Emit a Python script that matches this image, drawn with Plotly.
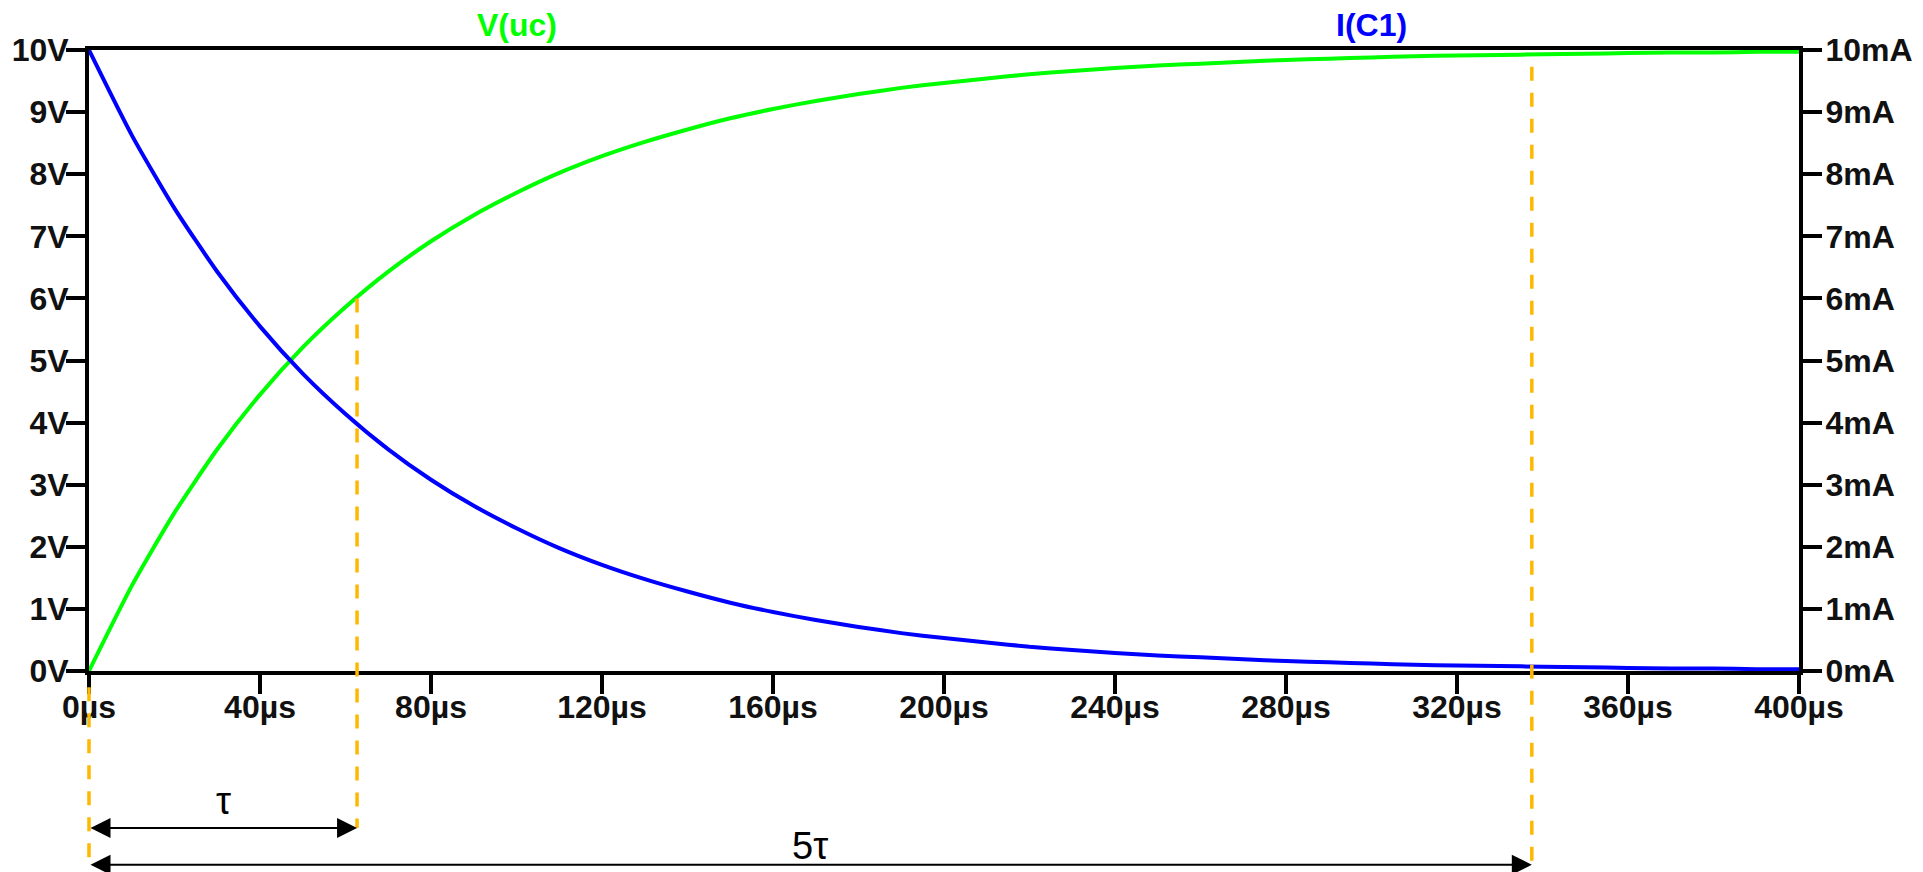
import plotly.graph_objects as go

# ---- data ----
t_us = [0, 10, 20, 30, 40, 50, 60, 70, 80, 90, 100, 110, 120, 130, 140, 150, 160, 170, 180, 190,
        200, 210, 220, 230, 240, 250, 260, 270, 280, 290, 300, 310, 320, 330, 340, 350, 360, 370,
        380, 390, 400]
v_uc = [0, 1.37, 2.55, 3.57, 4.45, 5.21, 5.86, 6.43, 6.92, 7.34, 7.70, 8.02, 8.29, 8.52, 8.72,
        8.90, 9.05, 9.18, 9.29, 9.39, 9.47, 9.54, 9.61, 9.66, 9.71, 9.75, 9.78, 9.81, 9.84, 9.86,
        9.88, 9.90, 9.91, 9.92, 9.93, 9.94, 9.95, 9.96, 9.96, 9.97, 9.97]
i_c1 = [10, 8.63, 7.45, 6.43, 5.55, 4.79, 4.14, 3.57, 3.08, 2.66, 2.30, 1.98, 1.71, 1.48, 1.28,
        1.10, 0.95, 0.82, 0.71, 0.61, 0.53, 0.46, 0.39, 0.34, 0.29, 0.25, 0.22, 0.19, 0.16, 0.14,
        0.12, 0.10, 0.09, 0.08, 0.07, 0.06, 0.05, 0.04, 0.04, 0.03, 0.03]

x_ticks = [0, 40, 80, 120, 160, 200, 240, 280, 320, 360, 400]
x_ticktext = [f"{v}µs" for v in x_ticks]
y_ticks = list(range(0, 11))
y_ticktext_v = [f"{v}V" for v in y_ticks]
y_ticktext_ma = [f"{v}mA" for v in y_ticks]

tau_mark_us = 62.7          # first dashed marker (tau)
five_tau_mark_us = 337.5    # second dashed marker (5 tau)
v_at_tau = 6.0              # where the tau marker meets V(uc)
v_top_five_tau = 9.73       # top of the 5 tau marker

X_RANGE = [0, 400]
Y_RANGE = [0, 10]

GREEN = "#00FF00"
BLUE = "#0000FF"
ORANGE = "#FFB800"
FAMILY = "Liberation Sans, Arial, sans-serif"
TICKFONT = dict(family=FAMILY, size=32, color="#111111", weight="bold")

fig = go.Figure()
fig.add_trace(go.Scatter(x=t_us, y=v_uc, mode="lines", name="V(uc)",
                         line=dict(color=GREEN, width=4, shape="spline", smoothing=0.6),
                         yaxis="y"))
fig.add_trace(go.Scatter(x=t_us, y=i_c1, mode="lines", name="I(C1)",
                         line=dict(color=BLUE, width=4, shape="spline", smoothing=0.6),
                         yaxis="y2"))

axis_common = dict(showgrid=False, zeroline=False, showline=True, linecolor="black", linewidth=4,
                   ticks="outside", ticklen=19, tickwidth=4, tickcolor="black",
                   tickfont=TICKFONT, layer="below traces", automargin=False)

# page body has an 8px default margin, so the figure is sized to fit the window
fig.update_layout(
    width=1915, height=864,
    margin=dict(l=81, r=124, t=42, b=201, autoexpand=False),
    paper_bgcolor="white", plot_bgcolor="white",
    showlegend=False,
    xaxis=dict(range=X_RANGE, tickvals=x_ticks, ticktext=x_ticktext, mirror=True,
               ticklabelstandoff=-14, **axis_common),
    yaxis=dict(range=Y_RANGE, tickvals=y_ticks, ticktext=y_ticktext_v,
               ticklabelstandoff=-9, **axis_common),
    yaxis2=dict(range=Y_RANGE, tickvals=y_ticks, ticktext=y_ticktext_ma, overlaying="y",
                side="right", ticklabelstandoff=-3, **axis_common),
)

# trace labels above the plot
for txt, xpos, col in [("V(uc)", 100, GREEN), ("I(C1)", 300, BLUE)]:
    fig.add_annotation(x=xpos, xref="x", y=1, yref="paper", yanchor="bottom", yshift=5,
                       text=txt, showarrow=False,
                       font=dict(family=FAMILY, size=32, color=col, weight="bold"))

span = Y_RANGE[1] - Y_RANGE[0]
dash_line = dict(color=ORANGE, width=3.5, dash="14px,12px")
# dashed marker lines
fig.add_shape(type="line", xref="x domain", yref="paper", x0=0, x1=0, y0=-0.026, y1=-0.312,
              line=dash_line, layer="above")
fig.add_shape(type="line", xref="x", yref="paper", x0=tau_mark_us, x1=tau_mark_us,
              y0=(v_at_tau - Y_RANGE[0]) / span, y1=-0.253, line=dash_line, layer="above")
fig.add_shape(type="line", xref="x", yref="paper", x0=five_tau_mark_us, x1=five_tau_mark_us,
              y0=(v_top_five_tau - Y_RANGE[0]) / span, y1=-0.312, line=dash_line, layer="above")

# double-headed arrows
for xe, ypos in [(tau_mark_us, -0.253), (five_tau_mark_us, -0.312)]:
    fig.add_annotation(x=xe, xref="x", y=ypos, yref="paper",
                       ax=0, axref="x", ay=0, ayref="pixel",
                       text="", showarrow=True, arrowside="end+start",
                       arrowhead=2, startarrowhead=2, arrowsize=2, startarrowsize=2,
                       arrowwidth=2, arrowcolor="black", standoff=0, startstandoff=0)

# tau labels
fig.add_annotation(x=tau_mark_us / 2, xref="x", y=-0.209, yref="paper", yanchor="middle",
                   text="τ", showarrow=False, font=dict(family=FAMILY, size=38, color="black"))
fig.add_annotation(x=five_tau_mark_us / 2, xref="x", y=-0.282, yref="paper", yanchor="middle",
                   text="5τ", showarrow=False, font=dict(family=FAMILY, size=38, color="black"))

fig.write_html("out.html")
